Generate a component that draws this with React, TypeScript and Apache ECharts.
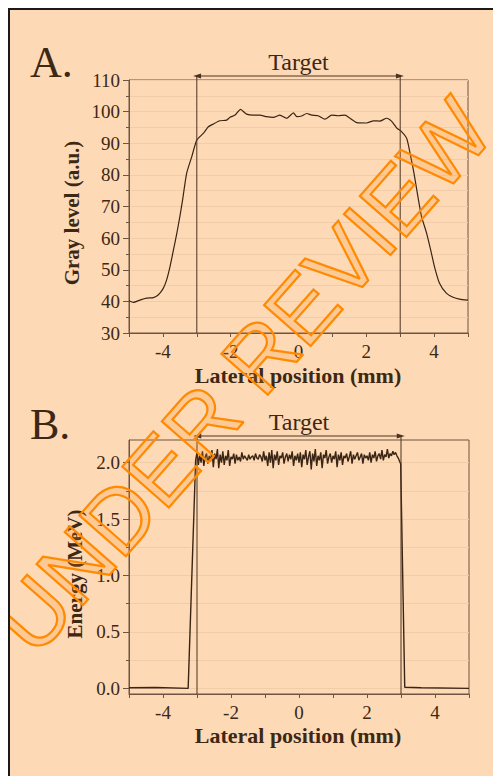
import React, { useEffect, useRef } from 'react';
import * as echarts from 'echarts';

// ---------- data ----------
const xMajorTicks = [-4, -2, 0, 2, 4];
const targetBounds = [-3, 3];

// Panel A: gray level profile
const grayX = [-5.0, -4.87, -4.68, -4.48, -4.28, -4.14, -3.99, -3.89, -3.79, -3.69, -3.59, -3.5, -3.42, -3.3, -3.15, -3.0,
  -2.81, -2.66, -2.51, -2.32, -2.12, -2.02, -1.87, -1.71, -1.53, -1.33, -1.14, -0.94, -0.74, -0.55, -0.35, -0.15, -0.05,
  0.09, 0.24, 0.39, 0.58, 0.78, 0.98, 1.17, 1.37, 1.52, 1.72, 2.01, 2.21, 2.4, 2.6, 2.75, 2.9, 3.04, 3.19, 3.25, 3.39,
  3.49, 3.54, 3.63, 3.78, 3.9, 4.01, 4.16, 4.36, 4.56, 4.75, 5.0];
const grayY = [40.2, 39.7, 40.4, 41.0, 41.2, 42.0, 44.1, 46.8, 51.0, 56.2, 61.5, 66.8, 72.0, 80.5, 85.7, 91.0,
  93.1, 95.2, 96.1, 97.1, 97.3, 98.2, 98.9, 100.7, 99.2, 98.9, 98.9, 98.4, 98.2, 98.9, 97.9, 99.6, 98.4,
  98.6, 99.4, 98.9, 98.7, 97.6, 98.9, 98.7, 98.9, 97.9, 96.5, 96.4, 97.1, 97.0, 97.9, 96.9, 94.8, 93.7, 91.6, 89.0, 81.5,
  75.2, 72.0, 66.8, 61.5, 56.2, 51.0, 45.7, 42.6, 41.3, 40.7, 40.4];

// Panel B: energy profile
const energyLeftX = [-5.0, -4.2, -3.26];
const energyLeftY = [0.005, 0.008, 0.0];
const energyPlateauStart = -3.04;
const energyPlateauStep = 0.04;
const energyPlateau = [
  2.02, 2.09, 1.98, 2.07, 2.00, 2.10, 1.97, 2.05, 2.08, 1.99, 2.06, 2.01, 2.11, 1.96, 2.08, 2.03, 2.12, 1.95, 2.07, 2.00, 2.10, 1.98, 2.06, 2.02, 2.11, 1.97, 2.05,
  2.03, 2.08, 1.99, 2.07, 2.02, 2.05, 2.01, 2.09, 2.03, 2.06, 2.04, 2.02, 2.07, 2.03, 2.05, 2.06, 2.02, 2.08, 2.04, 2.03, 2.07, 2.05, 2.01, 2.10, 2.02,
  2.06, 1.97, 2.09, 2.00, 2.11, 1.95, 2.07, 2.02, 2.10, 1.98, 2.06, 2.04, 2.09, 1.99, 2.05, 2.08, 2.01, 2.07, 2.03, 2.10, 1.97, 2.06, 2.02, 2.08, 2.00,
  2.09, 1.96, 2.07, 2.03, 2.11, 1.98, 2.05, 2.10, 1.94, 2.08, 2.01, 2.12, 1.97, 2.06, 2.02, 2.09, 1.95, 2.07, 2.04, 2.11, 1.99, 2.05, 2.08, 2.00, 2.06,
  2.03, 2.10, 1.96, 2.07, 2.02, 2.09, 1.98, 2.06, 2.04, 2.08, 2.01, 2.05, 2.10, 1.99, 2.07, 2.03, 2.06, 2.09, 2.02, 2.05, 2.08, 1.99, 2.07, 2.04, 2.06,
  2.02, 2.09, 2.00, 2.07, 2.04, 2.10, 2.01, 2.06, 2.08, 2.03, 2.11, 2.02, 2.07, 2.05, 2.12, 2.04, 2.08, 2.06, 2.10, 2.07, 2.09, 2.06, 2.04, 2.01,
];
const energyRightX = [2.99, 3.11, 3.6, 5.0];
const energyRightY = [1.99, 0.01, 0.005, 0.0];
const energyMajorTicks = [0, 0.5, 1.0, 1.5, 2.0];
const energyMinorTicks = [0.25, 0.75, 1.25, 1.75];

// ---------- styling ----------
const BG = '#FDD9B6';
const TXT = '#3d2814';
const AXIS = '#6f5441';
const GRID = '#F1CCA8';
const LINE = '#3a2515';
const SERIF = '"Liberation Serif", "Times New Roman", serif';

function zip(xs: number[], ys: number[]) {
  return xs.map((x, i) => [x, ys[i]]);
}

const energyData = [
  ...zip(energyLeftX, energyLeftY),
  ...energyPlateau.map((v, i) => [+(energyPlateauStart + i * energyPlateauStep).toFixed(3), v]),
  ...zip(energyRightX, energyRightY),
];

function targetSeries(xAxisIndex: number, yAxisIndex: number, yb: number, yt: number) {
  return {
    type: 'custom',
    xAxisIndex,
    yAxisIndex,
    clip: false,
    silent: true,
    z: 5,
    data: [[targetBounds[0], targetBounds[1], yb, yt, -3.11, 3.11]],
    renderItem: (_p: any, api: any) => {
      const pl = api.coord([api.value(0), api.value(2)]);
      const pr = api.coord([api.value(1), api.value(2)]);
      const top = api.coord([api.value(0), api.value(3)])[1];
      const ay = top - 4;
      const pal = api.coord([api.value(4), api.value(3)])[0];
      const par = api.coord([api.value(5), api.value(3)])[0];
      const c = '#4a3320';
      return {
        type: 'group',
        children: [
          { type: 'line', shape: { x1: pl[0], y1: pl[1], x2: pl[0], y2: ay }, style: { stroke: c, lineWidth: 1 } },
          { type: 'line', shape: { x1: pr[0], y1: pr[1], x2: pr[0], y2: ay }, style: { stroke: c, lineWidth: 1 } },
          { type: 'line', shape: { x1: pal + 5, y1: ay, x2: par - 5, y2: ay }, style: { stroke: c, lineWidth: 1 } },
          { type: 'polygon', shape: { points: [[pal, ay], [pal + 8, ay - 2.5], [pal + 8, ay + 2.5]] }, style: { fill: c } },
          { type: 'polygon', shape: { points: [[par, ay], [par - 8, ay - 2.5], [par - 8, ay + 2.5]] }, style: { fill: c } },
          {
            type: 'text', x: (pl[0] + pr[0]) / 2, y: ay - 14,
            style: { text: 'Target', font: `24px ${SERIF}`, fill: TXT, textAlign: 'center', textVerticalAlign: 'middle', align: 'center', verticalAlign: 'middle' },
          },
        ],
      };
    },
  };
}

function xAxisCfg(gridIndex: number) {
  return {
    type: 'value', gridIndex, min: -5, max: 5, interval: 1,
    axisLine: { onZero: false, lineStyle: { color: AXIS, width: 1 } },
    axisTick: { show: true, length: 4, lineStyle: { color: AXIS } },
    axisLabel: {
      margin: 9, color: TXT, fontFamily: SERIF, fontSize: 19,
      formatter: (v: number) => (xMajorTicks.indexOf(Math.round(v)) >= 0 ? String(Math.round(v)) : ''),
    },
    splitLine: { show: false },
  };
}

export default function App() {
  const ref = useRef<HTMLDivElement>(null);
  useEffect(() => {
    if (!ref.current) return;
    const chart = echarts.init(ref.current, null, { renderer: 'svg' });
    const option: any = {
      animation: false,
      backgroundColor: 'transparent',
      grid: [
        { left: 119, top: 70, width: 339, height: 253, show: true, borderColor: AXIS, borderWidth: 1, backgroundColor: 'transparent' },
        { left: 119, top: 430, width: 340, height: 254, show: true, borderColor: AXIS, borderWidth: 1, backgroundColor: 'transparent' },
      ],
      xAxis: [xAxisCfg(0), xAxisCfg(1)],
      yAxis: [
        {
          type: 'value', gridIndex: 0, min: 30, max: 110, interval: 10,
          axisLine: { show: true, onZero: false, lineStyle: { color: AXIS } },
          axisTick: { show: true, length: 6, lineStyle: { color: AXIS } },
          minorTick: { show: true, splitNumber: 2, length: 3, lineStyle: { color: AXIS } },
          axisLabel: { margin: 9, color: TXT, fontFamily: SERIF, fontSize: 19 },
          splitLine: { show: true, lineStyle: { color: GRID, width: 1 } },
          minorSplitLine: { show: true, lineStyle: { color: GRID, width: 1 } },
        },
        {
          type: 'value', gridIndex: 1, min: -0.05, max: 2.2,
          axisLine: { show: true, onZero: false, lineStyle: { color: AXIS } },
          axisTick: { show: true, length: 6, customValues: energyMajorTicks, lineStyle: { color: AXIS } },
          axisLabel: { margin: 9, color: TXT, fontFamily: SERIF, fontSize: 19, customValues: energyMajorTicks, formatter: (v: number) => v.toFixed(1) },
          splitLine: { show: true, lineStyle: { color: GRID, width: 1 } },
        },
        {
          type: 'value', gridIndex: 1, min: -0.05, max: 2.2, position: 'left',
          axisLine: { show: false, onZero: false },
          axisTick: { show: true, length: 3, customValues: energyMinorTicks, lineStyle: { color: AXIS } },
          axisLabel: { show: false, customValues: energyMinorTicks },
          splitLine: { show: true, lineStyle: { color: GRID, width: 1 } },
        },
      ],
      graphic: [
        { type: 'text', left: 20, top: 30, style: { text: 'A.', font: `44px ${SERIF}`, fill: TXT } },
        { type: 'text', left: 20, top: 392, style: { text: 'B.', font: `44px ${SERIF}`, fill: TXT } },
        { type: 'text', x: 62, y: 203, rotation: Math.PI / 2, style: { text: 'Gray level (a.u.)', font: `bold 21px ${SERIF}`, fill: TXT, textAlign: 'center', textVerticalAlign: 'middle' } },
        { type: 'text', x: 65, y: 564, rotation: Math.PI / 2, style: { text: 'Energy (MeV)', font: `bold 21px ${SERIF}`, fill: TXT, textAlign: 'center', textVerticalAlign: 'middle' } },
        { type: 'text', x: 288, y: 365, style: { text: 'Lateral position (mm)', font: `bold 22px ${SERIF}`, fill: TXT, textAlign: 'center', textVerticalAlign: 'middle' } },
        { type: 'text', x: 288, y: 725, style: { text: 'Lateral position (mm)', font: `bold 22px ${SERIF}`, fill: TXT, textAlign: 'center', textVerticalAlign: 'middle' } },
        {
          type: 'text', x: 233, y: 366, rotation: 0.85, z: 100,
          style: {
            text: 'UNDER REVIEW', font: `90px "Liberation Sans", Arial, sans-serif`,
            fill: 'rgba(255,140,20,0.2)', stroke: '#FF8A00', lineWidth: 2.2,
            textAlign: 'center', textVerticalAlign: 'middle',
          },
        },
      ],
      series: [
        {
          type: 'line', xAxisIndex: 0, yAxisIndex: 0, data: zip(grayX, grayY), showSymbol: false, smooth: 0.2,
          lineStyle: { color: LINE, width: 1.2 }, silent: true, z: 3,
        },
        {
          type: 'line', xAxisIndex: 1, yAxisIndex: 1, data: energyData, showSymbol: false,
          lineStyle: { color: LINE, width: 1.4 }, silent: true, z: 3,
        },
        targetSeries(0, 0, 30, 110),
        targetSeries(1, 1, -0.05, 2.2),
      ],
    };
    chart.setOption(option);
    return () => chart.dispose();
  }, []);

  return (
    <div style={{ width: 493, height: 768, borderTop: '2px solid #1a1a1a', borderLeft: '2px solid #1a1a1a', boxSizing: 'border-box', background: BG }}>
      <div ref={ref} style={{ width: 491, height: 766 }} />
    </div>
  );
}
